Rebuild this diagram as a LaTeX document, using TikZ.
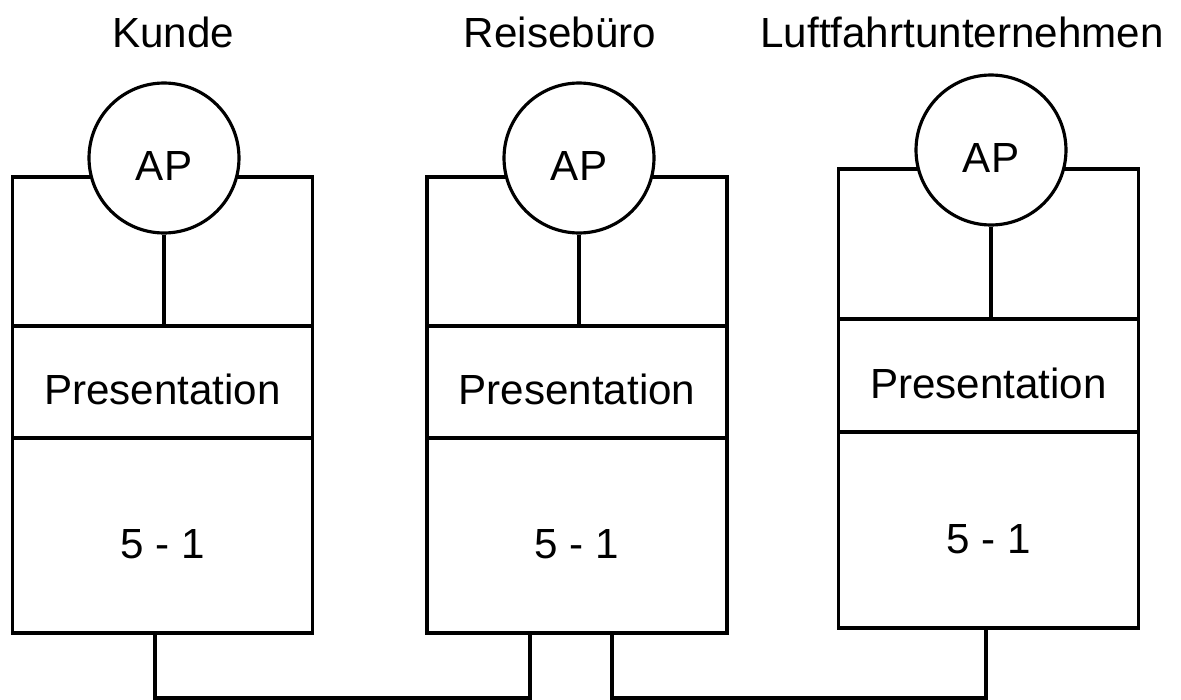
\documentclass[tikz,border=0pt]{standalone}
\usepackage{fontspec}
\setmainfont{Liberation Sans}

\begin{document}
\begin{tikzpicture}[x=0.02cm, y=-0.02cm]
 \tikzstyle{every node}=[font=\fontsize{24}{28}\selectfont]
 \tikzstyle{layer}=[rectangle, draw, line width=1.8pt, minimum width=6cm,
                    inner sep=0pt, text height=0.92cm, text depth=0pt]
 \tikzstyle{ap}=[circle, draw, fill=white, line width=1.8pt, minimum size=3cm,
                 inner sep=0pt, text height=0.9cm, text depth=0pt]
 \tikzstyle{title}=[anchor=base, inner sep=0pt]
 \tikzstyle{wire}=[line width=1.8pt]

        \useasboundingbox (0,0) rectangle (1181,700);

        % Kunde
        \node[title] (KT) at (173,47) {Kunde};
        \node[layer, minimum height=2.98cm] (KO) at (162.5,251.5){};
        \node[layer, minimum height=2.24cm] (KP) at (162.5,382){Presentation};
        \node[layer, minimum height=3.9cm] (KS) at (162.5,535.5){5 - 1};
        \node[ap] (KA) at (164,158){AP};

        % Reisebuero
        \node[title] (RT) at (560,47) {Reisebüro};
        \node[layer, minimum height=2.98cm] (RO) at (577,251.5){};
        \node[layer, minimum height=2.24cm] (RP) at (577,382){Presentation};
        \node[layer, minimum height=3.9cm] (RS) at (577,535.5){5 - 1};
        \node[ap] (RA) at (579,158){AP};

        % Luftfahrtunternehmen
        \node[title] (LT) at (962,47) {Luftfahrtunternehmen};
        \node[layer, minimum height=3cm] (LO) at (988.5,244){};
        \node[layer, minimum height=2.26cm] (LP) at (988.5,375.5){Presentation};
        \node[layer, minimum height=3.92cm] (LS) at (988.5,530){5 - 1};
        \node[ap] (LA) at (991,150){AP};

        \coordinate (B1) at (155,698);
        \coordinate (B2) at (530,698);
        \coordinate (B3) at (612,698);
        \coordinate (B4) at (986,698);

        \path[wire]
    (KA.south) edge (KA.south |- KO.south)
    (RA.south) edge (RA.south |- RO.south)
    (LA.south) edge (LA.south |- LO.south);

        \draw[wire] (B1 |- KS.south) -- (B1) -- (B2) -- (B2 |- RS.south);
        \draw[wire] (B3 |- RS.south) -- (B3) -- (B4) -- (B4 |- LS.south);

\end{tikzpicture}
\end{document}
